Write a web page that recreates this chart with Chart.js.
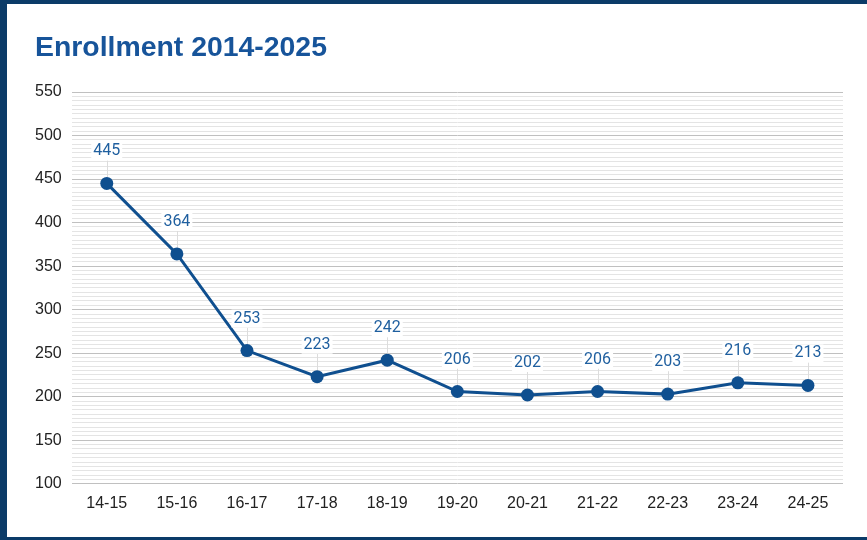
<!DOCTYPE html>
<html>
<head>
<meta charset="utf-8">
<script src="https://cdn.jsdelivr.net/npm/chart.js@4/dist/chart.umd.min.js"></script>
<style>
  html, body { margin: 0; padding: 0; background: #fff; }
  #wrap { position: relative; width: 867px; height: 540px; overflow: hidden; }
  canvas { position: absolute; left: 0; top: 0; }
  .b { position: absolute; background: #0b3b68; }
</style>
</head>
<body>
<div id="wrap">
  <canvas id="c" width="867" height="540"></canvas>
  <div class="b" style="left:0;top:0;width:7px;height:540px"></div>
  <div class="b" style="left:0;top:0;width:867px;height:4px"></div>
  <div class="b" style="left:0;top:537px;width:867px;height:3px"></div>
</div>
<script>
const categories = ["14-15","15-16","16-17","17-18","18-19","19-20","20-21","21-22","22-23","23-24","24-25"];
const enrollment = [445, 364, 253, 223, 242, 206, 202, 206, 203, 216, 213];
const yMin = 100, yMax = 550, majorStep = 50, minorStep = 5;
const titleText = 'Enrollment 2014-2025';

const LINE = '#0f4f8f';
const LABEL = '#1f5f9f';

const titlePlugin = {
  id: 'leftTitle',
  afterDraw(chart) {
    const ctx = chart.ctx;
    ctx.save();
    ctx.font = 'bold 28.4px "Liberation Sans", Arial, sans-serif';
    ctx.fillStyle = '#17549a';
    ctx.textAlign = 'left';
    ctx.textBaseline = 'middle';
    ctx.fillText(titleText, 35, 48);
    ctx.restore();
  }
};

const dataLabels = {
  id: 'dataLabels',
  beforeDatasetsDraw(chart) {
    const ctx = chart.ctx;
    const meta = chart.getDatasetMeta(0);
    ctx.save();
    ctx.strokeStyle = '#dcdcdc';
    ctx.lineWidth = 1;
    meta.data.forEach(pt => {
      const x = Math.round(pt.x) + 0.5;
      ctx.beginPath();
      ctx.moveTo(x, pt.y - 32 + 9);
      ctx.lineTo(x, pt.y);
      ctx.stroke();
    });
    ctx.restore();
  },
  afterDatasetsDraw(chart) {
    const ctx = chart.ctx;
    const meta = chart.getDatasetMeta(0);
    const ds = chart.data.datasets[0].data;
    ctx.save();
    ctx.font = '16px Roboto, "Liberation Sans", Arial, sans-serif';
    ctx.textAlign = 'center';
    ctx.textBaseline = 'middle';
    meta.data.forEach((pt, i) => {
      const t = String(ds[i]);
      const w = ctx.measureText(t).width;
      const cy = pt.y - 32;
      ctx.fillStyle = '#ffffff';
      ctx.fillRect(pt.x - w / 2 - 2, cy - 9, w + 4, 18);
      ctx.fillStyle = LABEL;
      ctx.fillText(t, pt.x, cy);
    });
    ctx.restore();
  }
};

new Chart(document.getElementById('c'), {
  type: 'line',
  data: {
    labels: categories,
    datasets: [{
      data: enrollment,
      borderColor: LINE,
      backgroundColor: LINE,
      borderWidth: 3,
      pointRadius: 6.5,
      pointBackgroundColor: LINE,
      pointBorderColor: LINE,
      pointBorderWidth: 0,
      tension: 0,
      fill: false
    }]
  },
  options: {
    responsive: false,
    animation: false,
    devicePixelRatio: 1,
    layout: { padding: { left: 25, right: 24, top: 92, bottom: 17 } },
    plugins: {
      legend: { display: false },
      tooltip: { enabled: false },
      title: { display: false }
    },
    scales: {
      x: {
        offset: true,
        grid: { display: false, drawTicks: false },
        border: { display: false },
        ticks: {
          color: '#222',
          padding: 10,
          font: { family: '"Liberation Sans", Arial, sans-serif', size: 16 }
        }
      },
      y: {
        min: yMin,
        max: yMax,
        border: { display: false },
        grid: {
          drawTicks: false,
          color: c => (c.tick && c.tick.value % majorStep === 0) ? '#c0c0c0' : '#e4e4e4',
          lineWidth: 1
        },
        ticks: {
          stepSize: minorStep,
          autoSkip: false,
          color: '#222',
          padding: 10,
          font: { family: '"Liberation Sans", Arial, sans-serif', size: 16 },
          callback: v => (v % majorStep === 0 ? String(v) : '')
        }
      }
    }
  },
  plugins: [dataLabels, titlePlugin]
});
</script>
</body>
</html>
